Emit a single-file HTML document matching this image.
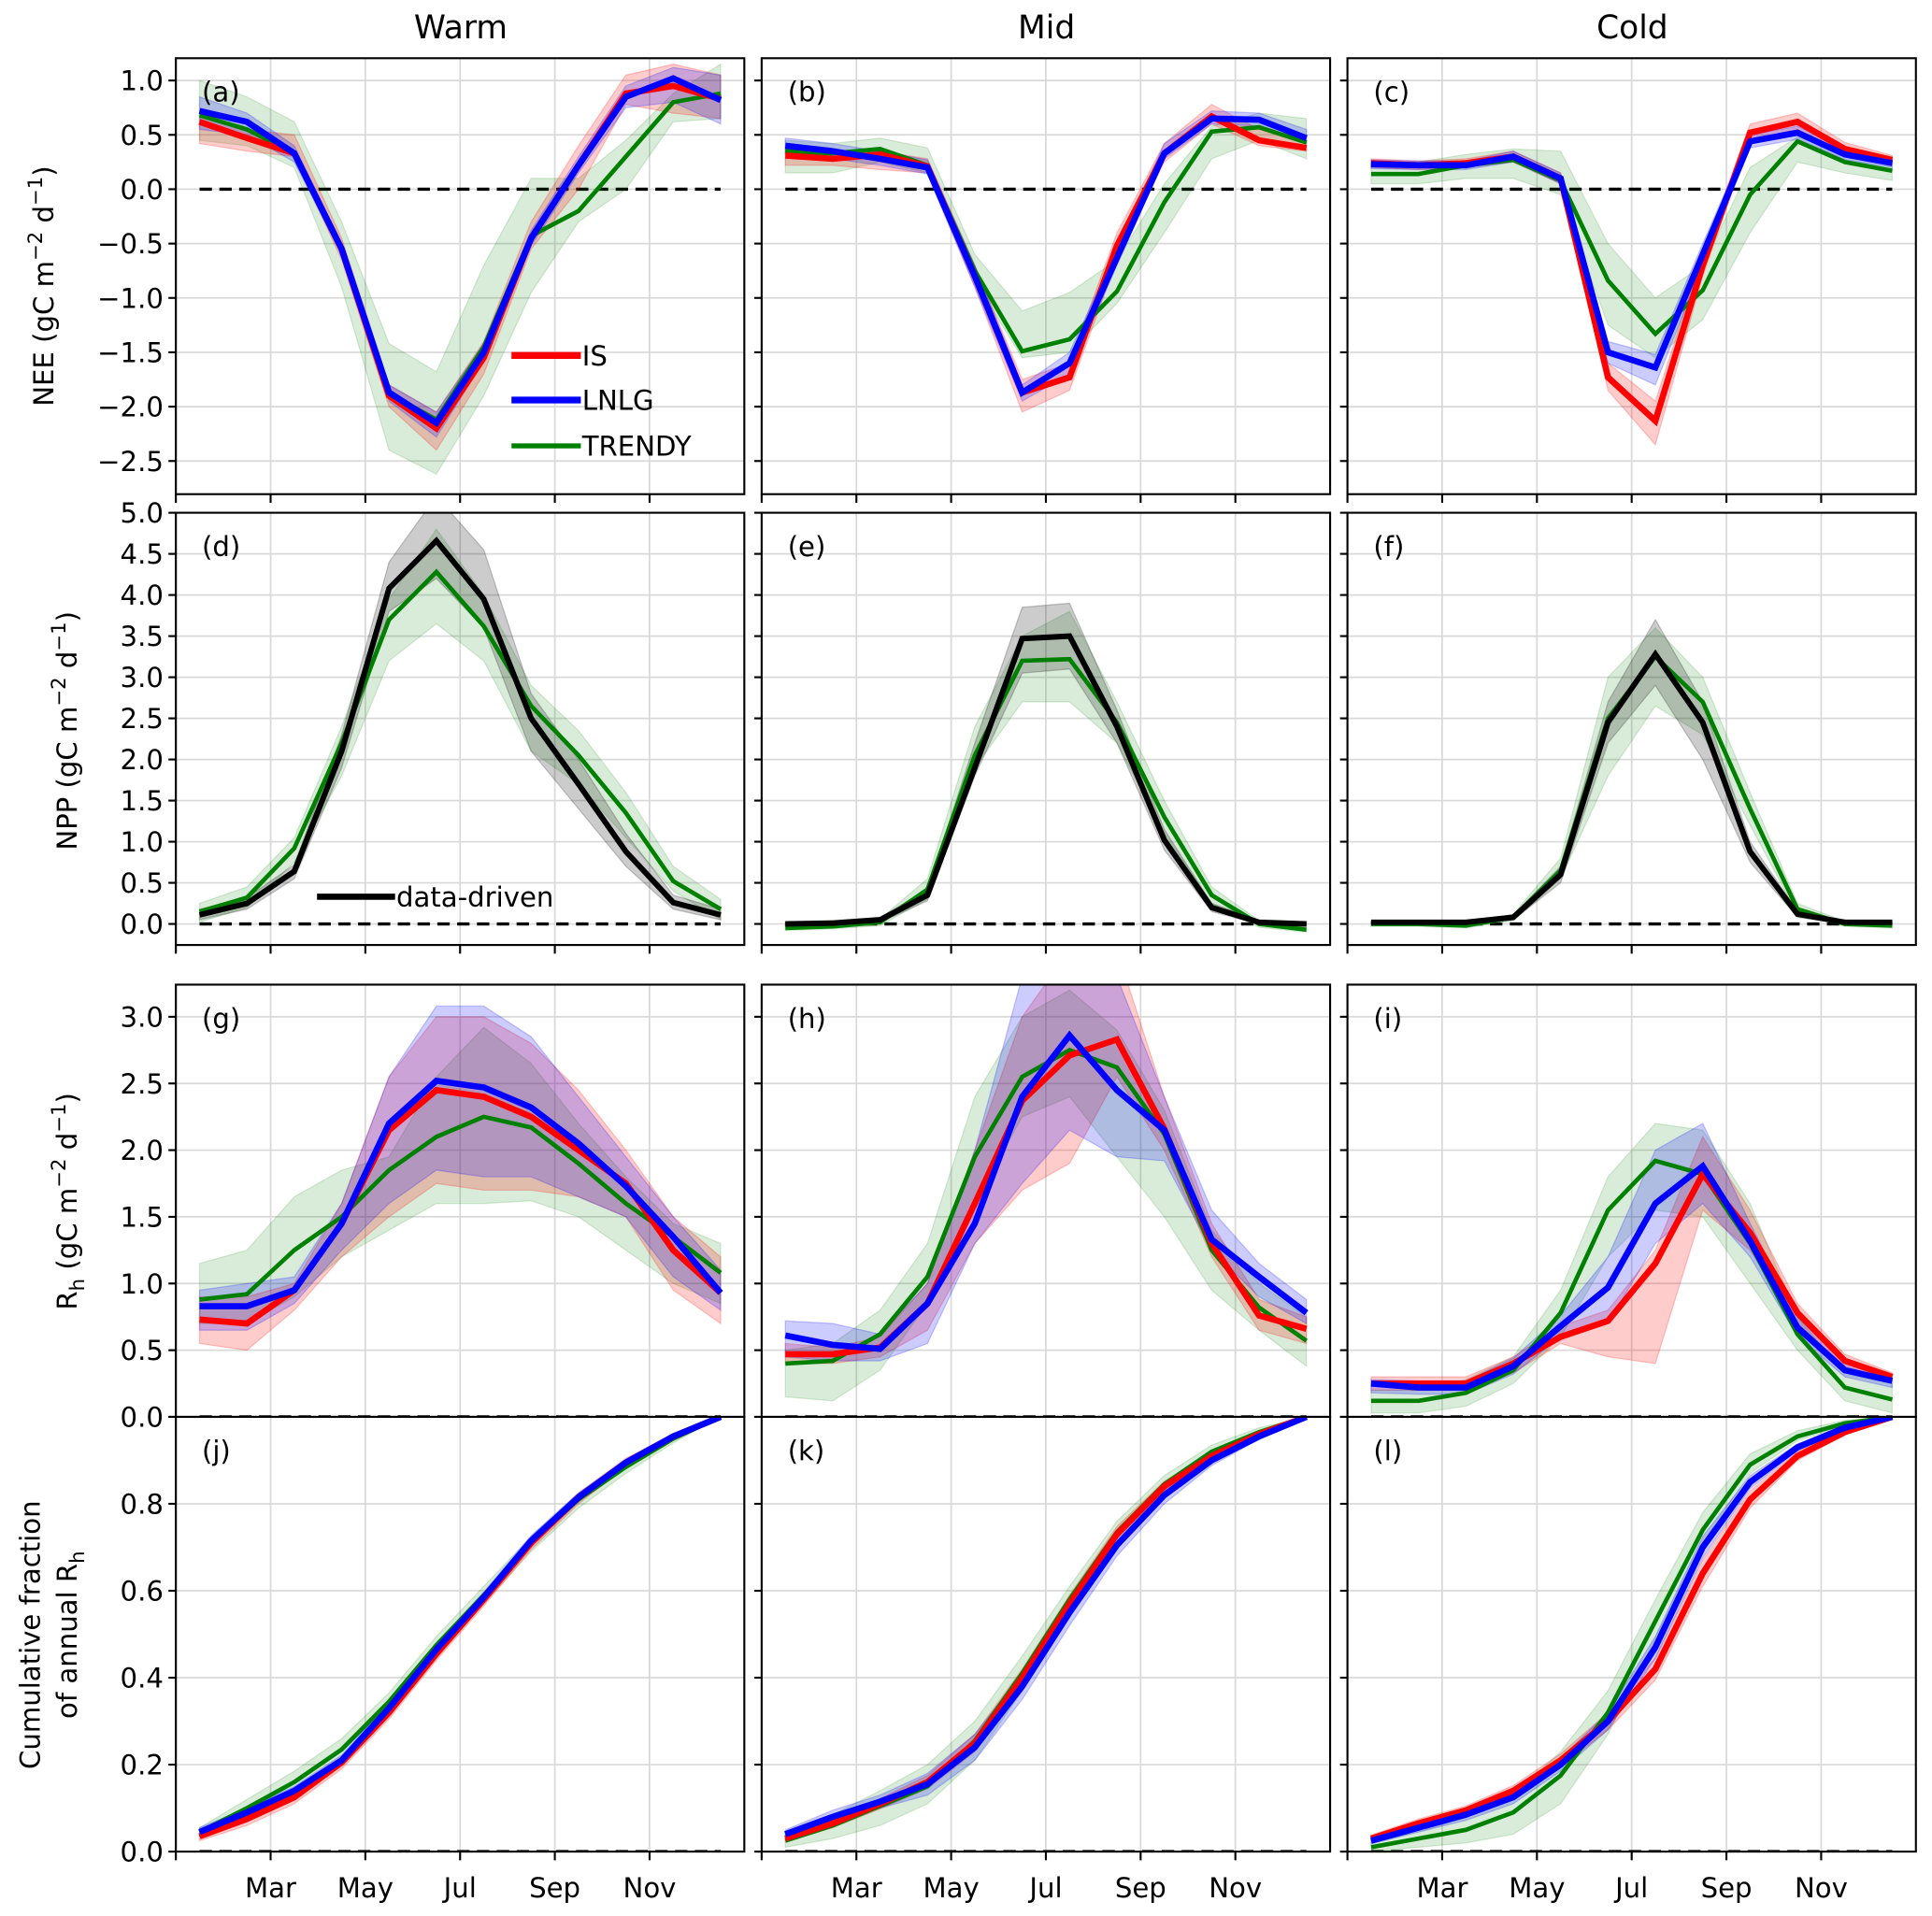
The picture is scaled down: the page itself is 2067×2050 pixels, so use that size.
<!DOCTYPE html>
<html><head><meta charset="utf-8">
<style>
html,body{margin:0;padding:0;background:#fff;}
svg{display:block;font-family:"DejaVu Sans","Liberation Sans",sans-serif;}
</style></head>
<body>
<svg id="fig" width="2067" height="2050" viewBox="0 0 1560 1547" preserveAspectRatio="none" xmlns="http://www.w3.org/2000/svg">
<rect x="0" y="0" width="1560" height="1547" fill="#fff"/>
<text x="372" y="31" font-size="26" text-anchor="middle">Warm</text>
<text x="845" y="31" font-size="26" text-anchor="middle">Mid</text>
<text x="1318" y="31" font-size="26" text-anchor="middle">Cold</text>
<text transform="translate(43,231) rotate(-90)" font-size="22" text-anchor="middle">NEE (gC m<tspan dy="-9" font-size="16">−2</tspan><tspan dy="9"> d</tspan><tspan dy="-9" font-size="16">−1</tspan><tspan dy="9">)</tspan></text>
<text transform="translate(62,590) rotate(-90)" font-size="22" text-anchor="middle">NPP (gC m<tspan dy="-9" font-size="16">−2</tspan><tspan dy="9"> d</tspan><tspan dy="-9" font-size="16">−1</tspan><tspan dy="9">)</tspan></text>
<text transform="translate(62,970) rotate(-90)" font-size="22" text-anchor="middle">R<tspan dy="6" font-size="16">h</tspan><tspan dy="-6"> (gC m</tspan><tspan dy="-9" font-size="16">−2</tspan><tspan dy="9"> d</tspan><tspan dy="-9" font-size="16">−1</tspan><tspan dy="9">)</tspan></text>
<text transform="translate(32,1320) rotate(-90)" font-size="22" text-anchor="middle">Cumulative fraction</text>
<text transform="translate(62,1320) rotate(-90)" font-size="22" text-anchor="middle">of annual R<tspan dy="6" font-size="16">h</tspan></text>
<g id="panels"></g>
</svg>
<script>
// ---------- data ----------
const xTickMonths = [2, 4, 6, 8, 10];
const xTickLabels = ['Mar', 'May', 'Jul', 'Sep', 'Nov'];
const neeTicks = [1.0, 0.5, 0.0, -0.5, -1.0, -1.5, -2.0, -2.5];
const nppTicks = [0.0, 0.5, 1.0, 1.5, 2.0, 2.5, 3.0, 3.5, 4.0, 4.5, 5.0];
const rhTicks = [0.0, 0.5, 1.0, 1.5, 2.0, 2.5, 3.0];
const cumTicks = [0.0, 0.2, 0.4, 0.6, 0.8, 1.0];
const cumTickLabels = ['0.0', '0.2', '0.4', '0.6', '0.8', ''];

// (a) NEE warm
const neeWarmIS = [0.62,0.47,0.33,-0.55,-1.90,-2.20,-1.55,-0.45,0.22,0.88,0.95,0.83];
const neeWarmISlo = [0.42,0.35,0.30,-0.65,-2.00,-2.40,-1.70,-0.55,0.00,0.78,0.70,0.65];
const neeWarmIShi = [0.70,0.55,0.50,-0.45,-1.80,-2.05,-1.40,-0.30,0.40,1.05,1.15,1.05];
const neeWarmLN = [0.72,0.62,0.33,-0.55,-1.87,-2.15,-1.50,-0.45,0.22,0.85,1.02,0.82];
const neeWarmLNlo = [0.55,0.50,0.25,-0.60,-1.95,-2.28,-1.58,-0.52,0.15,0.75,0.80,0.60];
const neeWarmLNhi = [0.85,0.70,0.40,-0.50,-1.80,-2.05,-1.42,-0.38,0.30,0.95,1.12,1.05];
const neeWarmTR = [0.68,0.55,0.33,-0.55,-1.88,-2.12,-1.45,-0.43,-0.20,0.30,0.80,0.88];
const neeWarmTRlo = [0.45,0.40,0.20,-0.90,-2.40,-2.62,-1.90,-0.95,-0.30,0.00,0.62,0.65];
const neeWarmTRhi = [1.00,0.85,0.62,-0.30,-1.42,-1.68,-0.70,0.10,0.10,0.45,0.88,1.15];
// (b) NEE mid
const neeMidIS = [0.31,0.28,0.32,0.21,-0.80,-1.87,-1.73,-0.52,0.33,0.67,0.45,0.38];
const neeMidISlo = [0.22,0.22,0.18,0.15,-0.90,-2.05,-1.85,-0.65,0.25,0.60,0.40,0.35];
const neeMidIShi = [0.38,0.35,0.35,0.28,-0.70,-1.75,-1.60,-0.40,0.42,0.78,0.55,0.48];
const neeMidLN = [0.40,0.35,0.28,0.20,-0.80,-1.87,-1.60,-0.63,0.33,0.65,0.64,0.47];
const neeMidLNlo = [0.32,0.28,0.22,0.14,-0.90,-1.95,-1.70,-0.70,0.28,0.60,0.58,0.42];
const neeMidLNhi = [0.47,0.42,0.35,0.27,-0.70,-1.80,-1.50,-0.55,0.42,0.72,0.70,0.55];
const neeMidTR = [0.35,0.33,0.37,0.22,-0.75,-1.49,-1.38,-0.94,-0.12,0.53,0.57,0.43];
const neeMidTRlo = [0.15,0.15,0.25,0.15,-0.85,-1.55,-1.50,-1.05,-0.40,0.28,0.45,0.28];
const neeMidTRhi = [0.45,0.42,0.47,0.38,-0.60,-1.12,-0.95,-0.65,0.05,0.58,0.70,0.65];
// (c) NEE cold
const neeColdIS = [0.24,0.22,0.24,0.30,0.10,-1.73,-2.13,-0.70,0.52,0.62,0.37,0.27];
const neeColdISlo = [0.20,0.18,0.20,0.25,0.05,-1.85,-2.35,-0.80,0.45,0.55,0.32,0.23];
const neeColdIShi = [0.28,0.26,0.28,0.35,0.15,-1.60,-1.95,-0.60,0.60,0.70,0.43,0.31];
const neeColdLN = [0.23,0.22,0.22,0.30,0.10,-1.50,-1.64,-0.60,0.44,0.52,0.32,0.24];
const neeColdLNlo = [0.19,0.18,0.18,0.25,0.05,-1.60,-1.80,-0.70,0.38,0.46,0.27,0.20];
const neeColdLNhi = [0.27,0.26,0.26,0.35,0.15,-1.40,-1.52,-0.50,0.50,0.58,0.37,0.28];
const neeColdTR = [0.14,0.14,0.22,0.27,0.08,-0.84,-1.33,-0.93,-0.05,0.44,0.25,0.17];
const neeColdTRlo = [0.05,0.05,0.10,0.10,-0.05,-1.25,-1.55,-1.20,-0.40,0.25,0.15,0.08];
const neeColdTRhi = [0.25,0.25,0.32,0.37,0.35,-0.50,-1.00,-0.70,0.20,0.48,0.35,0.25];
// (d) NPP warm
const nppWarmDD = [0.11,0.25,0.64,2.10,4.08,4.66,3.95,2.50,1.70,0.88,0.26,0.11];
const nppWarmDDlo = [0.05,0.18,0.55,1.90,3.80,4.20,3.60,2.10,1.40,0.70,0.18,0.05];
const nppWarmDDhi = [0.18,0.32,0.72,2.30,4.40,5.20,4.55,2.80,2.00,1.10,0.35,0.18];
const nppWarmTR = [0.15,0.32,0.92,2.20,3.70,4.28,3.62,2.65,2.05,1.35,0.52,0.18];
const nppWarmTRlo = [0.02,0.20,0.75,1.80,3.20,3.65,3.20,2.10,1.70,1.05,0.40,0.05];
const nppWarmTRhi = [0.25,0.45,1.05,2.40,3.95,4.80,4.00,2.90,2.35,1.60,0.70,0.30];
// (e) NPP mid
const nppMidDD = [0.00,0.01,0.05,0.35,1.90,3.47,3.50,2.40,1.02,0.20,0.02,0.00];
const nppMidDDlo = [-0.02,-0.01,0.02,0.28,1.80,3.05,3.10,2.20,0.90,0.15,0.00,-0.02];
const nppMidDDhi = [0.03,0.04,0.08,0.42,2.20,3.85,3.90,2.60,1.15,0.25,0.05,0.03];
const nppMidTR = [-0.05,-0.03,0.02,0.42,2.05,3.20,3.22,2.45,1.30,0.35,0.00,-0.07];
const nppMidTRlo = [-0.08,-0.06,-0.02,0.30,1.90,2.70,2.70,2.20,1.10,0.25,-0.04,-0.10];
const nppMidTRhi = [0.00,0.02,0.06,0.55,2.40,3.50,3.80,2.70,1.50,0.45,0.04,-0.02];
// (f) NPP cold
const nppColdDD = [0.02,0.02,0.02,0.08,0.60,2.45,3.28,2.45,0.88,0.12,0.02,0.02];
const nppColdDDlo = [0.00,0.00,0.00,0.05,0.50,2.20,2.90,2.00,0.75,0.08,0.00,0.00];
const nppColdDDhi = [0.04,0.04,0.04,0.11,0.70,2.70,3.70,2.70,1.00,0.16,0.04,0.04];
const nppColdTR = [0.00,0.00,-0.02,0.08,0.65,2.50,3.25,2.70,1.40,0.18,0.00,-0.02];
const nppColdTRlo = [-0.03,-0.03,-0.05,0.04,0.55,1.80,2.65,2.30,1.20,0.12,-0.03,-0.05];
const nppColdTRhi = [0.03,0.03,0.01,0.12,0.80,3.00,3.60,3.00,1.60,0.25,0.03,0.01];
// (g) Rh warm
const rhWarmIS = [0.73,0.70,0.95,1.45,2.15,2.45,2.40,2.25,2.00,1.75,1.25,0.93];
const rhWarmISlo = [0.55,0.50,0.80,1.20,1.50,1.75,1.70,1.70,1.65,1.50,0.95,0.70];
const rhWarmIShi = [0.90,0.90,1.00,1.60,2.55,3.00,3.00,2.80,2.45,2.00,1.50,1.20];
const rhWarmLN = [0.83,0.83,0.95,1.45,2.20,2.52,2.47,2.32,2.05,1.73,1.35,0.93];
const rhWarmLNlo = [0.65,0.65,0.85,1.25,1.60,1.85,1.80,1.80,1.65,1.50,1.05,0.80];
const rhWarmLNhi = [0.95,1.00,1.05,1.60,2.55,3.08,3.08,2.85,2.40,1.95,1.50,1.10];
const rhWarmTR = [0.88,0.92,1.25,1.50,1.85,2.10,2.25,2.17,1.90,1.60,1.35,1.08];
const rhWarmTRlo = [0.70,0.70,0.90,1.20,1.40,1.60,1.60,1.62,1.50,1.25,1.00,0.85];
const rhWarmTRhi = [1.15,1.25,1.65,1.85,1.95,2.55,2.92,2.65,2.20,1.80,1.45,1.30];
// (h) Rh mid
const rhMidIS = [0.47,0.47,0.52,0.85,1.60,2.37,2.71,2.83,2.16,1.30,0.76,0.66];
const rhMidISlo = [0.40,0.40,0.45,0.65,1.30,1.70,1.90,2.55,2.00,1.20,0.65,0.55];
const rhMidIShi = [0.55,0.52,0.60,1.00,2.00,3.00,3.50,3.50,2.40,1.45,0.88,0.75];
const rhMidLN = [0.61,0.54,0.51,0.85,1.45,2.40,2.86,2.45,2.15,1.33,1.05,0.78];
const rhMidLNlo = [0.45,0.42,0.42,0.55,1.30,1.75,2.15,1.95,1.92,1.25,0.90,0.70];
const rhMidLNhi = [0.72,0.70,0.62,1.00,2.00,3.30,3.50,3.30,2.40,1.55,1.15,0.88];
const rhMidTR = [0.40,0.42,0.62,1.05,1.95,2.55,2.75,2.62,2.12,1.25,0.82,0.57];
const rhMidTRlo = [0.15,0.12,0.35,0.85,1.60,2.25,2.40,1.95,1.50,0.95,0.65,0.38];
const rhMidTRhi = [0.50,0.55,0.80,1.30,2.40,3.00,3.20,2.90,2.30,1.40,1.00,0.75];
// (i) Rh cold
const rhColdIS = [0.25,0.25,0.25,0.40,0.60,0.72,1.15,1.82,1.38,0.78,0.42,0.30];
const rhColdISlo = [0.20,0.20,0.20,0.33,0.55,0.45,0.40,1.55,1.25,0.70,0.38,0.27];
const rhColdIShi = [0.30,0.30,0.30,0.45,0.68,0.80,1.25,2.10,1.55,0.85,0.47,0.33];
const rhColdLN = [0.25,0.22,0.22,0.38,0.68,0.97,1.60,1.88,1.32,0.67,0.35,0.27];
const rhColdLNlo = [0.18,0.17,0.17,0.32,0.60,0.70,1.30,1.60,1.20,0.60,0.30,0.22];
const rhColdLNhi = [0.28,0.27,0.27,0.44,0.76,1.20,2.00,2.20,1.45,0.75,0.40,0.30];
const rhColdTR = [0.12,0.12,0.18,0.35,0.78,1.55,1.92,1.82,1.30,0.62,0.22,0.13];
const rhColdTRlo = [0.03,0.03,0.08,0.25,0.60,1.20,1.55,1.50,1.00,0.50,0.12,0.03];
const rhColdTRhi = [0.20,0.20,0.28,0.45,0.95,1.80,2.20,2.15,1.60,0.75,0.32,0.25];
// (j) cumulative warm
const cumWarmIS = [0.035,0.075,0.125,0.205,0.32,0.455,0.58,0.71,0.815,0.895,0.955,1.0];
const cumWarmISlo = [0.025,0.060,0.110,0.190,0.305,0.440,0.565,0.695,0.800,0.885,0.950,1.0];
const cumWarmIShi = [0.045,0.085,0.135,0.215,0.330,0.465,0.590,0.720,0.825,0.905,0.960,1.0];
const cumWarmLN = [0.045,0.090,0.140,0.210,0.330,0.465,0.585,0.715,0.815,0.895,0.955,1.0];
const cumWarmLNlo = [0.035,0.078,0.128,0.198,0.318,0.453,0.573,0.703,0.805,0.888,0.950,1.0];
const cumWarmLNhi = [0.055,0.100,0.150,0.222,0.342,0.477,0.597,0.727,0.825,0.902,0.960,1.0];
const cumWarmTR = [0.045,0.100,0.160,0.235,0.345,0.475,0.590,0.710,0.810,0.885,0.950,1.0];
const cumWarmTRlo = [0.035,0.080,0.135,0.210,0.320,0.455,0.570,0.690,0.790,0.870,0.940,1.0];
const cumWarmTRhi = [0.055,0.120,0.185,0.260,0.365,0.495,0.610,0.725,0.825,0.900,0.960,1.0];
// (k) cumulative mid
const cumMidIS = [0.030,0.065,0.110,0.160,0.250,0.400,0.570,0.730,0.840,0.910,0.960,1.0];
const cumMidISlo = [0.022,0.055,0.098,0.145,0.230,0.380,0.550,0.712,0.828,0.902,0.955,1.0];
const cumMidIShi = [0.038,0.075,0.122,0.175,0.270,0.420,0.590,0.748,0.852,0.918,0.965,1.0];
const cumMidLN = [0.040,0.080,0.115,0.155,0.240,0.380,0.550,0.705,0.820,0.900,0.955,1.0];
const cumMidLNlo = [0.030,0.068,0.100,0.130,0.210,0.350,0.520,0.680,0.800,0.888,0.948,1.0];
const cumMidLNhi = [0.050,0.095,0.130,0.180,0.270,0.410,0.580,0.730,0.840,0.912,0.962,1.0];
const cumMidTR = [0.025,0.060,0.105,0.150,0.255,0.410,0.580,0.735,0.845,0.920,0.965,1.0];
const cumMidTRlo = [0.010,0.030,0.060,0.110,0.210,0.370,0.550,0.710,0.825,0.905,0.955,1.0];
const cumMidTRhi = [0.040,0.085,0.140,0.200,0.300,0.450,0.610,0.760,0.865,0.935,0.975,1.0];
// (l) cumulative cold
const cumColdIS = [0.030,0.065,0.095,0.140,0.210,0.300,0.420,0.640,0.810,0.910,0.965,1.0];
const cumColdISlo = [0.022,0.055,0.085,0.128,0.195,0.280,0.395,0.610,0.790,0.900,0.958,1.0];
const cumColdIShi = [0.038,0.075,0.105,0.152,0.225,0.320,0.445,0.670,0.830,0.920,0.972,1.0];
const cumColdLN = [0.025,0.055,0.085,0.125,0.200,0.300,0.470,0.700,0.850,0.930,0.975,1.0];
const cumColdLNlo = [0.018,0.045,0.072,0.110,0.185,0.280,0.445,0.675,0.835,0.922,0.970,1.0];
const cumColdLNhi = [0.032,0.065,0.098,0.140,0.215,0.320,0.495,0.725,0.865,0.938,0.980,1.0];
const cumColdTR = [0.010,0.030,0.050,0.090,0.175,0.320,0.530,0.740,0.890,0.955,0.985,1.0];
const cumColdTRlo = [0.000,0.010,0.020,0.040,0.110,0.270,0.490,0.710,0.870,0.945,0.980,1.0];
const cumColdTRhi = [0.020,0.045,0.080,0.130,0.230,0.370,0.580,0.780,0.915,0.968,0.992,1.0];

// ---------- drawing ----------
const NS = 'http://www.w3.org/2000/svg';
const root = document.getElementById('panels');
const colLeft = [142, 615, 1088];
const panelW = 459;
const rows = [
  {top: 47, bot: 399, ymin: -2.805, ymax: 1.205, ticks: neeTicks, labels: neeTicks.map(v => v.toFixed(1)), bottomTicks: true},
  {top: 414, bot: 763, ymin: -0.256, ymax: 5.0, ticks: nppTicks, labels: nppTicks.map(v => v.toFixed(1)), bottomTicks: true},
  {top: 795, bot: 1144, ymin: 0, ymax: 3.241, ticks: rhTicks, labels: rhTicks.map(v => v.toFixed(1)), bottomTicks: false},
  {top: 1144, bot: 1495, ymin: 0, ymax: 1.0, ticks: cumTicks, labels: cumTickLabels, bottomTicks: true, monthLabels: true}
];
const COL = {IS: '#ff0000', LN: '#0000ff', TR: '#008000', DD: '#000000'};
const FILL = {IS: 'rgba(255,0,0,0.2)', LN: 'rgba(0,0,255,0.2)', TR: 'rgba(0,128,0,0.15)', DD: 'rgba(0,0,0,0.2)'};
const LW = {IS: 5, LN: 5, TR: 3.5, DD: 4.5};
const SNAME = {IS: 'is', LN: 'lnlg', TR: 'trendy', DD: 'data-driven'};

function mk(tag, attrs, parent) {
  const e = document.createElementNS(NS, tag);
  for (const k in attrs) e.setAttribute(k, attrs[k]);
  (parent || root).appendChild(e);
  return e;
}

const panels = [
  {r: 0, c: 0, lab: '(a)', series: [['TR', neeWarmTR, neeWarmTRlo, neeWarmTRhi], ['IS', neeWarmIS, neeWarmISlo, neeWarmIShi], ['LN', neeWarmLN, neeWarmLNlo, neeWarmLNhi]]},
  {r: 0, c: 1, lab: '(b)', series: [['TR', neeMidTR, neeMidTRlo, neeMidTRhi], ['IS', neeMidIS, neeMidISlo, neeMidIShi], ['LN', neeMidLN, neeMidLNlo, neeMidLNhi]]},
  {r: 0, c: 2, lab: '(c)', series: [['TR', neeColdTR, neeColdTRlo, neeColdTRhi], ['IS', neeColdIS, neeColdISlo, neeColdIShi], ['LN', neeColdLN, neeColdLNlo, neeColdLNhi]]},
  {r: 1, c: 0, lab: '(d)', series: [['TR', nppWarmTR, nppWarmTRlo, nppWarmTRhi], ['DD', nppWarmDD, nppWarmDDlo, nppWarmDDhi]]},
  {r: 1, c: 1, lab: '(e)', series: [['TR', nppMidTR, nppMidTRlo, nppMidTRhi], ['DD', nppMidDD, nppMidDDlo, nppMidDDhi]]},
  {r: 1, c: 2, lab: '(f)', series: [['TR', nppColdTR, nppColdTRlo, nppColdTRhi], ['DD', nppColdDD, nppColdDDlo, nppColdDDhi]]},
  {r: 2, c: 0, lab: '(g)', series: [['TR', rhWarmTR, rhWarmTRlo, rhWarmTRhi], ['IS', rhWarmIS, rhWarmISlo, rhWarmIShi], ['LN', rhWarmLN, rhWarmLNlo, rhWarmLNhi]]},
  {r: 2, c: 1, lab: '(h)', series: [['TR', rhMidTR, rhMidTRlo, rhMidTRhi], ['IS', rhMidIS, rhMidISlo, rhMidIShi], ['LN', rhMidLN, rhMidLNlo, rhMidLNhi]]},
  {r: 2, c: 2, lab: '(i)', series: [['TR', rhColdTR, rhColdTRlo, rhColdTRhi], ['IS', rhColdIS, rhColdISlo, rhColdIShi], ['LN', rhColdLN, rhColdLNlo, rhColdLNhi]]},
  {r: 3, c: 0, lab: '(j)', series: [['TR', cumWarmTR, cumWarmTRlo, cumWarmTRhi], ['IS', cumWarmIS, cumWarmISlo, cumWarmIShi], ['LN', cumWarmLN, cumWarmLNlo, cumWarmLNhi]]},
  {r: 3, c: 1, lab: '(k)', series: [['TR', cumMidTR, cumMidTRlo, cumMidTRhi], ['IS', cumMidIS, cumMidISlo, cumMidIShi], ['LN', cumMidLN, cumMidLNlo, cumMidLNhi]]},
  {r: 3, c: 2, lab: '(l)', series: [['TR', cumColdTR, cumColdTRlo, cumColdTRhi], ['IS', cumColdIS, cumColdISlo, cumColdIShi], ['LN', cumColdLN, cumColdLNlo, cumColdLNhi]]}
];

panels.forEach(p => {
  const row = rows[p.r];
  const L = colLeft[p.c], R = L + panelW, T = row.top, B = row.bot;
  const xs = m => L + (m / 12) * panelW;
  const ys = v => B - (v - row.ymin) / (row.ymax - row.ymin) * (B - T);
  const g = mk('g', {});
  
  
  const cid = 'clip' + p.r + p.c;
  const cp = mk('clipPath', {id: cid}, g);
  mk('rect', {x: L, y: T, width: panelW, height: B - T}, cp);
  // grid
  row.ticks.forEach(t => {
    const y = ys(t);
    if (y > T + 1 && y < B - 1) {
      const gl = mk('line', {x1: L, x2: R, y1: y, y2: y, stroke: '#d9d9d9', 'stroke-width': 1.3}, g);
      
      
    }
  });
  xTickMonths.forEach(m => {
    const gl = mk('line', {x1: xs(m), x2: xs(m), y1: T, y2: B, stroke: '#d9d9d9', 'stroke-width': 1.3}, g);
    
    
  });
  const dg = mk('g', {'clip-path': 'url(#' + cid + ')'}, g);
  // zero line
  const zl = mk('line', {x1: xs(0.5), x2: xs(11.5), y1: ys(0), y2: ys(0), stroke: '#000', 'stroke-width': 2.6, 'stroke-dasharray': '10,6'}, dg);
  
  
  // bands
  p.series.forEach(s => {
    const [k, mean, lo, hi] = s;
    const up = hi.map((v, i) => xs(i + 0.5) + ',' + ys(v));
    const dn = lo.map((v, i) => xs(i + 0.5) + ',' + ys(v)).reverse();
    const band = mk('polygon', {points: up.concat(dn).join(' '), fill: FILL[k], stroke: FILL[k], 'stroke-width': 1}, dg);
    
    
  });
  // lines
  p.series.forEach(s => {
    const [k, mean] = s;
    const pts = mean.map((v, i) => xs(i + 0.5) + ',' + ys(v)).join(' ');
    const ln = mk('polyline', {points: pts, fill: 'none', stroke: COL[k], 'stroke-width': LW[k], 'stroke-linejoin': 'miter'}, dg);
    
    
  });
  // frame
  const fr = mk('rect', {x: L, y: T, width: panelW, height: B - T, fill: 'none', stroke: '#000', 'stroke-width': 1.6}, g);
  
  
  // y ticks
  row.ticks.forEach((t, i) => {
    const y = ys(t);
    const tk = mk('line', {x1: L - 6, x2: L, y1: y, y2: y, stroke: '#000', 'stroke-width': 1.6}, g);
    
    
    if (p.c === 0 && row.labels[i] !== '') {
      const tl = mk('text', {x: L - 10, y: y + 8, 'font-size': 22, 'text-anchor': 'end'}, g);
      tl.textContent = row.labels[i].replace('-', '−');
      
      
    }
  });
  // x ticks
  if (row.bottomTicks) {
    [0].concat(xTickMonths).forEach(m => {
      const tk = mk('line', {x1: xs(m), x2: xs(m), y1: B, y2: B + 7, stroke: '#000', 'stroke-width': 1.6}, g);
      
      
    });
  }
  if (row.monthLabels) {
    xTickMonths.forEach((m, i) => {
      const tl = mk('text', {x: xs(m), y: B + 37, 'font-size': 22, 'text-anchor': 'middle'}, g);
      tl.textContent = xTickLabels[i];
      
      
    });
  }
  // panel label
  const pl = mk('text', {x: L + 21, y: T + 35, 'font-size': 22}, g);
  pl.textContent = p.lab;
  
  
});

// legends
const legA = [['IS', 'IS', 287], ['LN', 'LNLG', 323], ['TR', 'TRENDY', 360]];
legA.forEach(l => {
  const ln = mk('line', {x1: 413, x2: 469, y1: l[2], y2: l[2], stroke: COL[l[0]], 'stroke-width': LW[l[0]] + 0.5});
  
  
  const t = mk('text', {x: 470, y: l[2] + 8, 'font-size': 22});
  t.textContent = l[1];
  
  
});
const ddl = mk('line', {x1: 256, x2: 319, y1: 724, y2: 724, stroke: '#000', 'stroke-width': 5});


const ddt = mk('text', {x: 320, y: 732, 'font-size': 22});
ddt.textContent = 'data-driven';


</script>
</body></html>
